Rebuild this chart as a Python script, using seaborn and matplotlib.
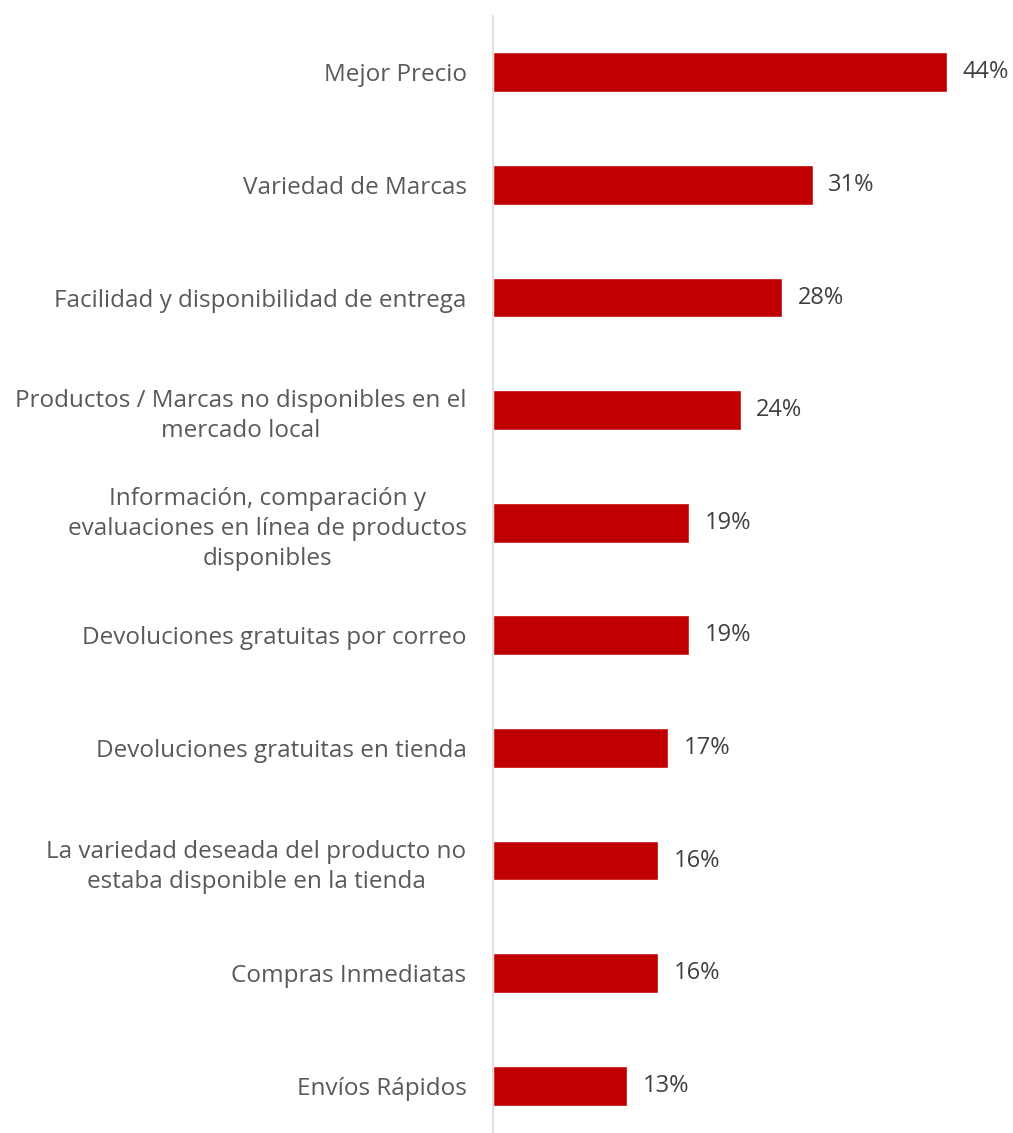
import matplotlib
matplotlib.use("Agg")
import matplotlib.pyplot as plt
import seaborn as sns
import pandas as pd

categories = [
    "Mejor Precio",
    "Variedad de Marcas",
    "Facilidad y disponibilidad de entrega",
    "Productos / Marcas no disponibles en el\nmercado local",
    "Información, comparación y\nevaluaciones en línea de productos\ndisponibles",
    "Devoluciones gratuitas por correo",
    "Devoluciones gratuitas en tienda",
    "La variedad deseada del producto no\nestaba disponible en la tienda",
    "Compras Inmediatas",
    "Envíos Rápidos",
]
values = [44, 31, 28, 24, 19, 19, 17, 16, 16, 13]

df = pd.DataFrame({"cat": categories, "val": values})

sns.set_theme(style="white")
plt.rcParams["font.family"] = ["Open Sans", "DejaVu Sans"]

fig = plt.figure(figsize=(10.13, 11.33), dpi=100)
ax = fig.add_axes([493 / 1013, 0.0, (1009 - 493) / 1013, (1133 - 16) / 1133])

sns.barplot(data=df, x="val", y="cat", color="#C00000", saturation=1,
            width=0.355, ax=ax, orient="h")

ax.set_xlim(0, 50)
ax.set_ylim(9.42, -0.5)
ax.set_xlabel("")
ax.set_ylabel("")
ax.set_xticks([])
ax.set_yticks(range(len(categories)))
ax.set_yticklabels(categories, fontsize=17.5, color="#595959",
                   multialignment="center", linespacing=1.35)
ax.tick_params(axis="y", length=0, pad=19)

for s in ["top", "right", "bottom"]:
    ax.spines[s].set_visible(False)
ax.spines["left"].set_color("#D9D9D9")
ax.spines["left"].set_linewidth(1.2)

for i, v in enumerate(values):
    ax.text(v + 1.5, i, f"{v}%", va="center", ha="left",
            fontsize=17, color="#404040")

fig.savefig("out.png", dpi=100)
